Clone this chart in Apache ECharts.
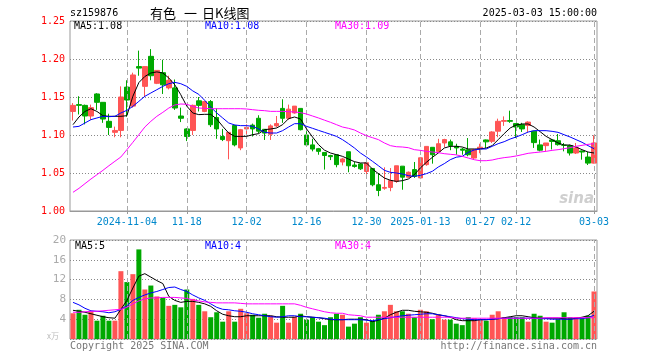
<!DOCTYPE html>
<html><head><meta charset="utf-8">
<script src="https://cdn.jsdelivr.net/npm/echarts@6/dist/echarts.min.js"></script>
<style>html,body{margin:0;padding:0;background:#fff}#c{width:660px;height:360px}</style>
</head><body><div id="c"></div>
<script>
const dates = ['2024-10-22','2024-10-23','2024-10-24','2024-10-25','2024-10-28','2024-10-29','2024-10-30','2024-10-31','2024-11-01',
'2024-11-04','2024-11-05','2024-11-06','2024-11-07','2024-11-08','2024-11-11','2024-11-12','2024-11-13','2024-11-14','2024-11-15',
'2024-11-18','2024-11-19','2024-11-20','2024-11-21','2024-11-22','2024-11-25','2024-11-26','2024-11-27','2024-11-28','2024-11-29',
'2024-12-02','2024-12-03','2024-12-04','2024-12-05','2024-12-06','2024-12-09','2024-12-10','2024-12-11','2024-12-12','2024-12-13',
'2024-12-16','2024-12-17','2024-12-18','2024-12-19','2024-12-20','2024-12-23','2024-12-24','2024-12-25','2024-12-26','2024-12-27',
'2024-12-30','2024-12-31','2025-01-02','2025-01-03','2025-01-06','2025-01-07','2025-01-08','2025-01-09','2025-01-10',
'2025-01-13','2025-01-14','2025-01-15','2025-01-16','2025-01-17','2025-01-20','2025-01-21','2025-01-22','2025-01-23','2025-01-24',
'2025-01-27','2025-02-05','2025-02-06','2025-02-07','2025-02-10','2025-02-11',
'2025-02-12','2025-02-13','2025-02-14','2025-02-17','2025-02-18','2025-02-19','2025-02-20','2025-02-21','2025-02-24','2025-02-25',
'2025-02-26','2025-02-27','2025-02-28','2025-03-03'];

const openP = [1.131,1.140,1.139,1.125,1.154,1.143,1.118,1.1035,1.106,1.163,
1.138,1.190,1.164,1.2035,1.168,1.182,1.162,1.162,1.125,1.108,
1.106,1.145,1.131,1.144,1.123,1.098,1.0925,1.1125,1.083,1.108,
1.113,1.122,1.1075,1.101,1.112,1.135,1.122,1.129,1.135,1.100,
1.087,1.082,1.077,1.073,1.074,1.0645,1.078,1.0605,1.062,1.052,
1.056,1.0345,1.030,1.031,1.039,1.059,1.0445,1.0545,1.0435,1.061,
1.0838,1.0785,1.0895,1.091,1.085,1.0815,1.0805,1.0697,1.082,1.0935,
1.0917,1.105,1.118,1.119,1.115,1.1136,1.1125,1.105,1.087,1.086,
1.0935,1.0925,1.0866,1.086,1.0763,1.079,1.071,1.063];

const closeP = [1.139,1.139,1.125,1.136,1.143,1.121,1.110,1.106,1.150,1.146,
1.179,1.188,1.190,1.178,1.185,1.166,1.172,1.1355,1.122,1.098,
1.139,1.139,1.144,1.1135,1.108,1.094,1.1035,1.087,1.107,1.110,
1.108,1.105,1.1025,1.112,1.115,1.122,1.134,1.138,1.107,1.087,
1.0815,1.0785,1.073,1.0715,1.061,1.0685,1.0595,1.0585,1.0555,1.0635,
1.0345,1.027,1.031,1.040,1.0595,1.0445,1.051,1.0455,1.070,1.085,
1.074,1.0885,1.094,1.086,1.083,1.080,1.074,1.0807,1.084,1.091,
1.104,1.118,1.119,1.118,1.1105,1.108,1.117,1.090,1.080,1.0895,
1.0915,1.0873,1.0864,1.0763,1.083,1.0776,1.063,1.0895];

const lowP = [1.119,1.127,1.114,1.120,1.133,1.116,1.100,1.097,1.097,1.124,
1.136,1.178,1.150,1.172,1.167,1.154,1.160,1.133,1.117,1.092,
1.100,1.131,1.130,1.1105,1.095,1.092,1.068,1.085,1.080,1.101,
1.098,1.102,1.0935,1.0935,1.110,1.116,1.120,1.128,1.106,1.086,
1.0785,1.074,1.0545,1.067,1.0575,1.060,1.051,1.057,1.054,1.048,
1.0325,1.0195,1.028,1.026,1.037,1.028,1.0435,1.0435,1.042,1.0595,
1.0623,1.077,1.084,1.080,1.074,1.074,1.072,1.0685,1.076,1.083,
1.0895,1.097,1.112,1.116,1.096,1.104,1.1035,1.083,1.0785,1.0785,
1.081,1.086,1.0785,1.073,1.075,1.0675,1.0605,1.0625];

const highP = [1.142,1.151,1.140,1.140,1.155,1.143,1.128,1.111,1.164,1.172,
1.182,1.211,1.190,1.213,1.185,1.199,1.178,1.173,1.136,1.109,
1.140,1.150,1.145,1.146,1.135,1.108,1.1035,1.1135,1.108,1.114,
1.115,1.126,1.1075,1.114,1.125,1.147,1.140,1.138,1.135,1.105,
1.095,1.083,1.077,1.074,1.074,1.070,1.078,1.065,1.063,1.065,
1.056,1.050,1.0575,1.0565,1.0595,1.059,1.052,1.0645,1.070,1.085,
1.0838,1.095,1.095,1.094,1.0885,1.083,1.096,1.0815,1.0885,1.094,
1.105,1.1215,1.1245,1.132,1.115,1.116,1.118,1.105,1.094,1.0895,
1.0945,1.1013,1.0895,1.0873,1.0895,1.0795,1.0776,1.0996];

const volume = [5.2,5.9,4.9,5.6,3.7,4.7,3.7,3.7,13.7,11.5,
13.1,18.1,10.0,10.8,8.6,8.3,6.7,6.9,6.4,10.0,
8.1,6.9,5.6,4.4,5.4,3.5,5.6,3.5,6.1,5.2,
4.9,4.3,5.1,4.7,3.3,6.7,3.3,4.5,5.1,3.9,
4.4,3.5,2.8,4.4,5.1,4.9,2.5,3.1,4.4,3.3,
3.7,4.9,5.6,6.9,5.6,5.6,5.1,4.4,5.9,5.6,
4.0,4.9,3.9,3.9,3.1,2.8,4.4,4.2,3.9,3.7,
4.9,5.6,4.4,4.4,4.4,4.4,3.5,5.1,4.7,3.5,
3.3,4.0,5.4,4.4,4.4,4.2,4.7,9.6];

const ma5 = [1.1136,1.1237,1.131,1.1346,1.131,1.1254,1.1246,1.1246,1.1246,1.1254,
1.151,1.169,1.177,1.1816,1.183,1.1816,1.175,1.166,1.153,1.138,
1.129,1.1268,1.1272,1.1272,1.121,1.1114,1.1026,1.0982,1.0982,1.0982,
1.1004,1.1018,1.107,1.1079,1.1092,1.1136,1.1215,1.1237,1.121,1.108,
1.0974,1.0873,1.080,1.0763,1.0741,1.0719,1.0684,1.0649,1.0632,1.0632,
1.0553,1.0491,1.0434,1.0404,1.039,1.0399,1.0421,1.0478,1.0566,1.064,
1.0706,1.0763,1.0829,1.0851,1.0851,1.0842,1.0816,1.0816,1.0816,1.0829,
1.086,1.0939,1.1018,1.1092,1.1132,1.1145,1.1145,1.1105,1.1044,1.0982,
1.0939,1.0895,1.0868,1.0868,1.0842,1.0807,1.0776,1.0763];

const ma10 = [1.1105,1.1114,1.1158,1.1202,1.1224,1.1246,1.1241,1.1246,1.129,1.1325,
1.1377,1.1443,1.1509,1.1553,1.1596,1.164,1.1675,1.1693,1.1675,1.164,
1.158,1.1535,1.1456,1.1368,1.129,1.1224,1.1158,1.1132,1.1123,1.1123,
1.1114,1.1079,1.1035,1.1026,1.1026,1.1057,1.1105,1.1149,1.1149,1.1114,
1.1088,1.1061,1.1035,1.1009,1.0982,1.0939,1.0886,1.0829,1.0763,1.0711,
1.0654,1.0596,1.0535,1.0509,1.05,1.0487,1.0465,1.0456,1.0469,1.0491,
1.0522,1.0579,1.0623,1.0675,1.0708,1.0719,1.0772,1.0803,1.0816,1.0816,
1.0851,1.0886,1.0912,1.0947,1.0974,1.1004,1.1039,1.1057,1.1057,1.1057,
1.1048,1.1035,1.1004,1.0974,1.0939,1.0904,1.086,1.082];

const ma30 = [1.0246,1.0298,1.036,1.0421,1.0478,1.0535,1.0596,1.0654,1.0711,1.0807,
1.0904,1.1004,1.1105,1.118,1.1246,1.1298,1.1355,1.1395,1.1408,1.1404,
1.1377,1.1355,1.1351,1.1346,1.1346,1.1346,1.1346,1.1346,1.1346,1.1342,
1.1333,1.1325,1.132,1.1311,1.1311,1.1311,1.1307,1.1303,1.1294,1.1276,
1.125,1.1224,1.1195,1.1167,1.1136,1.1105,1.1088,1.1066,1.1026,1.0991,
1.0965,1.0939,1.0895,1.086,1.0846,1.0842,1.0833,1.0807,1.0798,1.0785,
1.0776,1.0768,1.0754,1.0746,1.0739,1.0719,1.0697,1.0675,1.0662,1.0662,
1.0671,1.0689,1.0702,1.0711,1.0724,1.0741,1.0759,1.0768,1.0776,1.0785,
1.0798,1.0807,1.082,1.0833,1.0851,1.0864,1.0877,1.0886];

const volMa5 = [5.8,5.6,5.4,5.1,4.8,4.5,4.3,4.2,6.0,7.8,
10.3,12.7,13.2,12.5,11.8,11.2,8.6,7.8,7.4,7.6,
7.6,7.4,7.1,6.6,5.7,5.0,4.7,4.5,4.5,4.7,
4.7,4.7,4.7,4.7,4.5,4.4,4.4,4.4,4.7,4.5,
4.4,4.3,4.1,3.9,3.9,3.9,4.0,4.0,4.0,3.9,
3.5,3.8,4.2,4.9,5.4,5.8,5.8,5.6,5.5,5.4,
5.2,4.9,4.7,4.4,3.9,3.7,3.7,3.7,3.9,3.9,
4.0,4.1,4.3,4.5,4.7,4.7,4.5,4.3,4.2,4.2,
4.2,4.2,4.1,4.0,4.2,4.4,4.7,5.6];

const volMa10 = [7.4,6.9,6.2,5.7,5.6,5.5,5.3,5.5,6.0,6.7,
7.8,8.4,8.9,9.3,9.6,10.0,10.4,10.5,10.0,9.6,
8.9,8.3,7.8,7.1,6.4,6.0,5.9,5.7,5.6,5.4,
5.1,4.9,4.7,4.5,4.4,4.5,4.7,4.7,4.5,4.5,
4.4,4.3,4.2,4.0,3.9,3.9,3.9,3.9,3.9,3.8,
3.7,3.9,4.1,4.3,4.5,4.7,4.8,4.9,5.0,5.1,
5.1,4.9,4.7,4.5,4.3,4.1,4.0,3.9,3.9,3.9,
4.0,4.1,4.2,4.2,4.2,4.2,4.2,4.2,4.1,4.1,
4.0,4.0,4.0,4.0,4.1,4.1,4.3,4.8];

const volMa30 = [5.4,5.4,5.5,5.6,5.6,5.7,5.8,5.9,6.0,6.4,
7.1,7.7,8.1,8.3,8.3,8.4,8.4,8.4,8.3,8.2,
7.9,7.7,7.5,7.4,7.3,7.3,7.3,7.3,7.2,7.1,
7.1,7.1,7.1,7.1,7.1,7.1,7.1,7.1,6.8,6.4,
6.1,5.8,5.5,5.3,5.2,5.2,4.9,4.8,4.7,4.4,
4.4,4.4,4.4,4.4,4.4,4.4,4.4,4.4,4.4,4.4,
4.4,4.4,4.4,4.4,4.2,4.2,4.2,4.2,4.2,4.2,
4.2,4.2,4.2,4.2,4.2,4.2,4.2,4.2,4.2,4.3,
4.3,4.3,4.3,4.3,4.3,4.3,4.3,4.3];

const tickDates = ['2024-11-04','2024-11-18','2024-12-02','2024-12-16','2024-12-30','2025-01-13','2025-01-27','2025-02-12','2025-03-03'];
const tickLabels = ['2024-11-04','11-18','12-02','12-16','12-30','2025-01-13','01-27','02-12','03-03'];

const RED = '#ff5555', GREEN = '#00a800';
const MONO = 'DejaVu Sans Mono';
const tickIdx = new Set(tickDates.map(d => dates.indexOf(d)));
const labelOf = {}; tickDates.forEach((d, i) => labelOf[d] = tickLabels[i]);
const tickFn = (i) => tickIdx.has(i);

const candleData = dates.map((d, i) => [openP[i], closeP[i], lowP[i], highP[i]]);
const volData = volume.map((v, i) => ({ value: v, itemStyle: { color: closeP[i] >= openP[i] ? RED : GREEN } }));

const vLines = {
  silent: true, symbol: 'none', animation: false,
  label: { show: false },
  lineStyle: { color: '#aaa', type: [5, 3], width: 1 },
  emphasis: { disabled: true },
  data: tickDates.map(d => ({ xAxis: d }))
};

const chart = echarts.init(document.getElementById('c'), null, { renderer: 'canvas' });
const txt = (x, y, text, color, extra) => ({
  type: 'text', x, y, silent: true,
  style: Object.assign({ text, fill: color, font: '10px "' + MONO + '"', textVerticalAlign: 'middle' }, extra || {})
});

chart.setOption({
  animation: false,
  backgroundColor: '#fff',
  grid: [
    { left: 70, right: 63, top: 21, height: 190, show: true, borderColor: '#999', borderWidth: 1 },
    { left: 70, right: 63, top: 240, height: 99, show: true, borderColor: '#999', borderWidth: 1 }
  ],
  xAxis: [
    { type: 'category', gridIndex: 0, data: dates, boundaryGap: true,
      axisLine: { lineStyle: { color: '#999' } },
      axisTick: { show: true, interval: tickFn, alignWithLabel: true, length: 3, lineStyle: { color: '#999' } },
      axisLabel: { interval: tickFn, formatter: v => labelOf[v] || '', color: '#0088cc', fontFamily: MONO, fontSize: 10, margin: 6 },
      splitLine: { show: false } },
    { type: 'category', gridIndex: 1, data: dates, boundaryGap: true,
      axisLine: { show: false }, axisTick: { show: false }, axisLabel: { show: false },
      splitLine: { show: false } }
  ],
  yAxis: [
    { type: 'value', gridIndex: 0, min: 1.0, max: 1.25, interval: 0.05,
      axisLine: { show: false }, axisTick: { show: false },
      axisLabel: { formatter: v => v.toFixed(2), color: '#ff0000', fontFamily: MONO, fontSize: 10, margin: 5 },
      splitLine: { show: true, lineStyle: { color: '#888', type: [1, 2] } } },
    { type: 'value', gridIndex: 1, min: 0, max: 20, interval: 4,
      axisLine: { show: false }, axisTick: { show: false },
      axisLabel: { formatter: v => v === 0 ? '' : String(v), color: '#aaa', fontFamily: MONO, fontSize: 11, margin: 4 },
      splitLine: { show: true, lineStyle: { color: '#888', type: [1, 2] } } }
  ],
  series: [
    { type: 'candlestick', xAxisIndex: 0, yAxisIndex: 0, data: candleData, barWidth: 5,
      itemStyle: { color: RED, color0: GREEN, borderColor: RED, borderColor0: GREEN, borderWidth: 1 },
      markLine: vLines },
    { type: 'line', xAxisIndex: 0, yAxisIndex: 0, data: ma5, symbol: 'none', z: 5, lineStyle: { color: '#000', width: 1 } },
    { type: 'line', xAxisIndex: 0, yAxisIndex: 0, data: ma10, symbol: 'none', z: 5, lineStyle: { color: '#0000ff', width: 1 } },
    { type: 'line', xAxisIndex: 0, yAxisIndex: 0, data: ma30, symbol: 'none', z: 5, lineStyle: { color: '#ff00ff', width: 1 } },
    { type: 'bar', xAxisIndex: 1, yAxisIndex: 1, data: volData, barWidth: 5, markLine: vLines },
    { type: 'line', xAxisIndex: 1, yAxisIndex: 1, data: volMa5, symbol: 'none', z: 5, lineStyle: { color: '#000', width: 1 } },
    { type: 'line', xAxisIndex: 1, yAxisIndex: 1, data: volMa10, symbol: 'none', z: 5, lineStyle: { color: '#0000ff', width: 1 } },
    { type: 'line', xAxisIndex: 1, yAxisIndex: 1, data: volMa30, symbol: 'none', z: 5, lineStyle: { color: '#ff00ff', width: 1 } }
  ],
  graphic: [
    txt(70, 13, 'sz159876', '#000'),
    txt(150, 13, '有色', '#000', { font: '13px "Noto Sans CJK SC"' }),
    txt(184, 13, '一', '#000', { font: '13px "Noto Sans CJK SC"' }),
    txt(202, 13, '日K线图', '#000', { font: '13px "Noto Sans CJK SC"' }),
    txt(597, 13, '2025-03-03 15:00:00', '#000', { textAlign: 'right' }),
    txt(74, 26, 'MA5:1.08', '#000'),
    txt(205, 26, 'MA10:1.08', '#0000ff'),
    txt(335, 26, 'MA30:1.09', '#ff00ff'),
    txt(75, 246, 'MA5:5', '#000'),
    txt(205, 246, 'MA10:4', '#0000ff'),
    txt(335, 246, 'MA30:4', '#ff00ff'),
    txt(70, 346, 'Copyright 2025 SINA.COM', '#777'),
    txt(597, 346, 'http://finance.sina.com.cn', '#777', { textAlign: 'right' }),
    txt(47, 336, 'x万', '#bbb', { font: '8px "Noto Sans CJK SC"' }),
    txt(594, 199, 'sina', '#cfcfcf', { textAlign: 'right', font: 'italic bold 15px "DejaVu Sans"' })
  ]
});
</script>
</body></html>
